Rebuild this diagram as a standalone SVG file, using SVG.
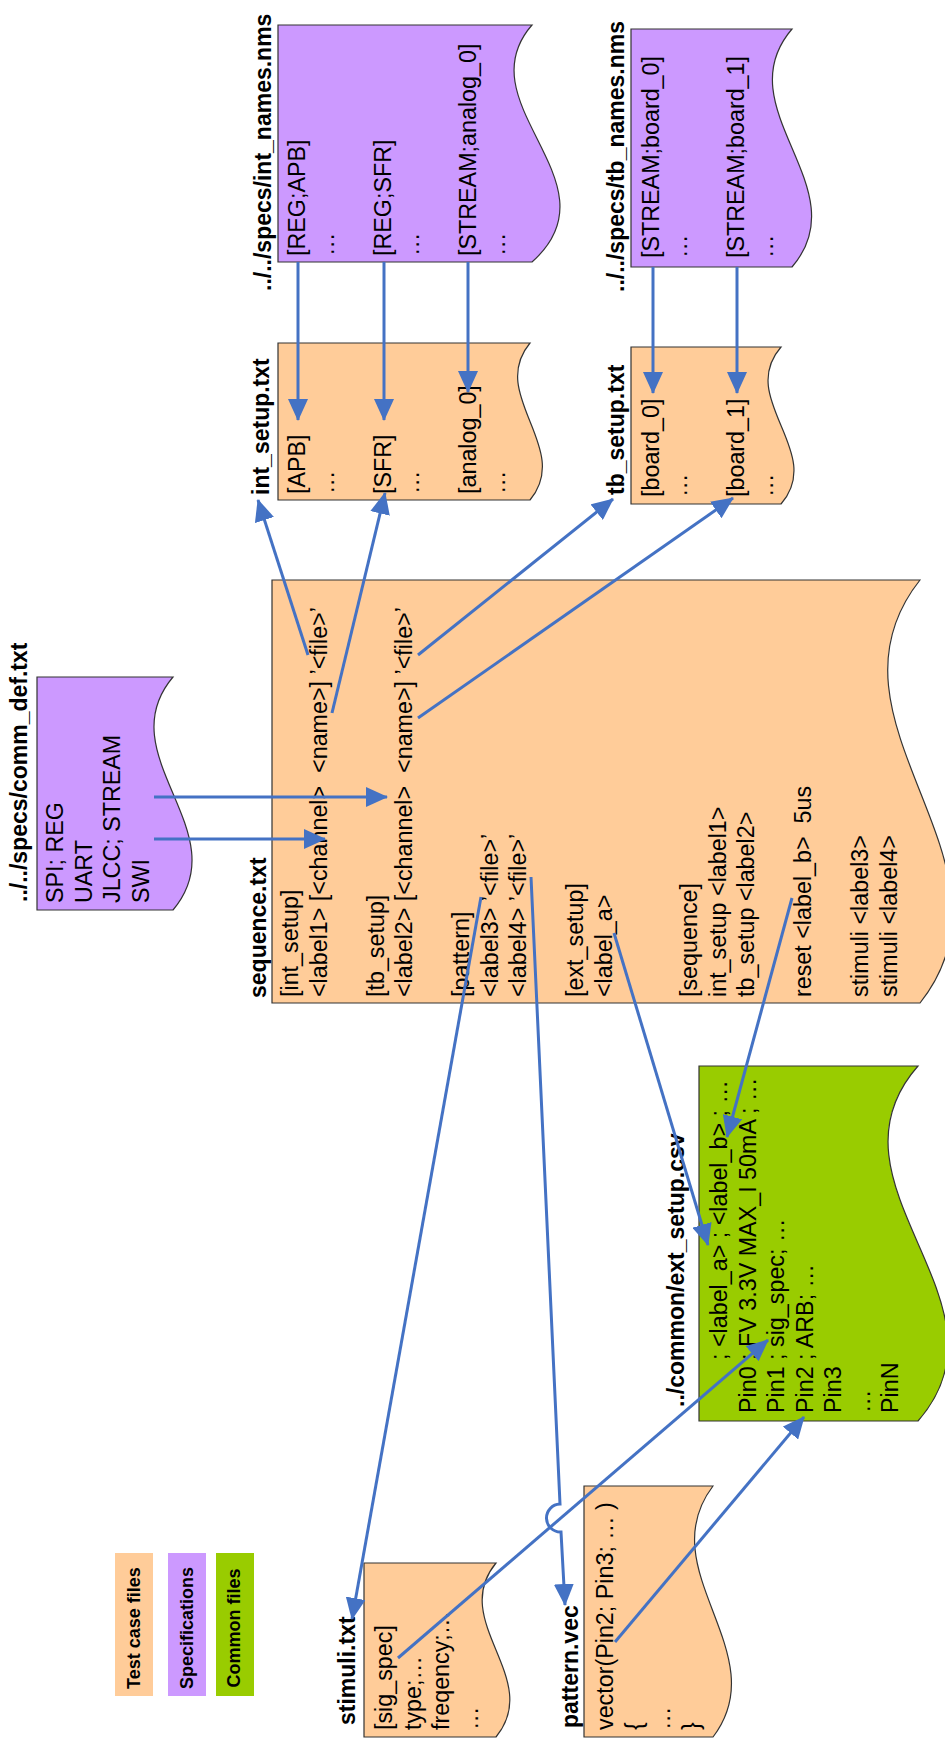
<svg xmlns="http://www.w3.org/2000/svg" width="945" height="1739" viewBox="0 0 945 1739">
<style>
.t{font-family:"Liberation Sans",Arial,sans-serif;font-size:23.3px;fill:#000}
.h{font-family:"Liberation Sans",Arial,sans-serif;font-size:23px;font-weight:bold;fill:#000}
.lg{font-family:"Liberation Sans",Arial,sans-serif;font-size:18px;font-weight:bold;fill:#000;text-anchor:middle}
.tc{fill:#FFCC99;stroke:#333;stroke-width:1.2}
.sp{fill:#CC99FF;stroke:#333;stroke-width:1.2}
.cm{fill:#99CC00;stroke:#333;stroke-width:1.2}
.c{fill:none;stroke:#4472C4;stroke-width:3;marker-end:url(#ah)}
.n{fill:none;stroke:#4472C4;stroke-width:3}
</style>
<defs>
<marker id="ah" markerUnits="userSpaceOnUse" markerWidth="22" markerHeight="20" refX="21" refY="10" orient="auto">
<path d="M0,0 L22,10 L0,20 z" fill="#4472C4"/>
</marker>
</defs>
<rect width="945" height="1739" fill="#fff"/>

<g id="int_names">
<path class="sp" d="M278,25 H532 C463,104 621,183 532,262 H278 Z"/>
<text class="h" transform="translate(271,291) rotate(-90)">../../specs/int_names.nms</text>
<text class="t" transform="translate(305,256) rotate(-90)"><tspan x="0" y="0">[REG;APB]</tspan><tspan x="0" y="28.5">…</tspan><tspan x="0" y="85.5">[REG;SFR]</tspan><tspan x="0" y="114">…</tspan><tspan x="0" y="171">[STREAM;analog_0]</tspan><tspan x="0" y="199.5">…</tspan></text>
</g>

<g id="int_setup">
<path class="tc" d="M278,343 H530 C487,395 573,448 530,500 H278 Z"/>
<text class="h" transform="translate(269,495) rotate(-90)">int_setup.txt</text>
<text class="t" transform="translate(305,494) rotate(-90)"><tspan x="0" y="0">[APB]</tspan><tspan x="0" y="28.5">…</tspan><tspan x="0" y="85.5">[SFR]</tspan><tspan x="0" y="114">…</tspan><tspan x="0" y="171">[analog_0]</tspan><tspan x="0" y="199.5">…</tspan></text>
</g>

<g id="tb_names">
<path class="sp" d="M631,29 H792 C724,108 860,188 792,267 H631 Z"/>
<text class="h" transform="translate(624,292) rotate(-90)">../../specs/tb_names.nms</text>
<text class="t" transform="translate(658.5,258) rotate(-90)"><tspan x="0" y="0">[STREAM;board_0]</tspan><tspan x="0" y="28.5">…</tspan><tspan x="0" y="85.5">[STREAM;board_1]</tspan><tspan x="0" y="114">…</tspan></text>
</g>

<g id="tb_setup">
<path class="tc" d="M631,347 H781 C736,399 826,452 781,504 H631 Z"/>
<text class="h" transform="translate(624,495) rotate(-90)">tb_setup.txt</text>
<text class="t" transform="translate(658.5,497) rotate(-90)"><tspan x="0" y="0">[board_0]</tspan><tspan x="0" y="28.5">…</tspan><tspan x="0" y="85.5">[board_1]</tspan><tspan x="0" y="114">…</tspan></text>
</g>

<g id="comm_def">
<path class="sp" d="M37,677 H173 C107,755 239,832 173,910 H37 Z"/>
<text class="h" transform="translate(27,902) rotate(-90)">../../specs/comm_def.txt</text>
<text class="t" transform="translate(63,903) rotate(-90)"><tspan x="0" y="0">SPI; REG</tspan><tspan x="0" y="28.5">UART</tspan><tspan x="0" y="57">JLCC; STREAM</tspan><tspan x="0" y="85.5">SWI</tspan></text>
</g>

<g id="sequence">
<path class="tc" d="M272,580 H920 C808,721 1032,862 920,1003 H272 Z"/>
<text class="h" transform="translate(266,998) rotate(-90)">sequence.txt</text>
<text class="t" transform="translate(298,997) rotate(-90)"><tspan x="0" y="0">[int_setup]</tspan><tspan x="0" y="28.5">&lt;label1&gt; [&lt;channel&gt; &#160;&lt;name&gt;] ’&lt;file&gt;’</tspan><tspan x="0" y="85.5">[tb_setup]</tspan><tspan x="0" y="114">&lt;label2&gt; [&lt;channel&gt; &#160;&lt;name&gt;] ’&lt;file&gt;’</tspan><tspan x="0" y="171">[pattern]</tspan><tspan x="0" y="199.5">&lt;label3&gt; ’&lt;file&gt;’</tspan><tspan x="0" y="228">&lt;label4&gt; ’&lt;file&gt;’</tspan><tspan x="0" y="285">[ext_setup]</tspan><tspan x="0" y="313.5">&lt;label_a&gt;</tspan><tspan x="0" y="399">[sequence]</tspan><tspan x="0" y="427.5">int_setup &lt;label1&gt;</tspan><tspan x="0" y="456">tb_setup &lt;label2&gt;</tspan><tspan x="0" y="513">reset &lt;label_b&gt; &#160;5us</tspan><tspan x="0" y="570">stimuli &lt;label3&gt;</tspan><tspan x="0" y="598.5">stimuli &lt;label4&gt;</tspan></text>
</g>

<g id="ext_setup">
<path class="cm" d="M699,1066 H918 C814,1184 1022,1303 918,1421 H699 Z"/>
<text class="h" transform="translate(684,1407) rotate(-90)">../common/ext_setup.csv</text>
<text class="t" transform="translate(727,1413) rotate(-90)"><tspan x="53" y="0">; &lt;label_a&gt; ; &lt;label_b&gt; ; …</tspan><tspan x="0" y="28.5">Pin0 ; FV 3.3V MAX_I 50mA ; …</tspan><tspan x="0" y="57">Pin1 ; sig_spec; …</tspan><tspan x="0" y="85.5">Pin2 ; ARB; …</tspan><tspan x="0" y="114">Pin3</tspan><tspan x="0" y="142.5">…</tspan><tspan x="0" y="171">PinN</tspan></text>
</g>

<g id="stimuli">
<path class="tc" d="M364,1563 H496 C448,1621 544,1679 496,1737 H364 Z"/>
<text class="h" transform="translate(355,1725) rotate(-90)">stimuli.txt</text>
<text class="t" transform="translate(392,1730) rotate(-90)"><tspan x="0" y="0">[sig_spec]</tspan><tspan x="0" y="28.5">type;…</tspan><tspan x="0" y="57">freqency;…</tspan><tspan x="0" y="85.5">…</tspan></text>
</g>

<g id="pattern">
<path class="tc" d="M584,1486 H713 C649,1570 777,1653 713,1737 H584 Z"/>
<text class="h" transform="translate(578,1728) rotate(-90)">pattern.vec</text>
<text class="t" transform="translate(613,1730) rotate(-90)"><tspan x="0" y="0">vector(Pin2; Pin3; … )</tspan><tspan x="0" y="28.5">{</tspan><tspan x="0" y="57">…</tspan><tspan x="0" y="85.5">}</tspan></text>
</g>

<g id="legend">
<rect x="115" y="1553" width="38" height="143" fill="#FFCC99"/>
<rect x="168" y="1553" width="38" height="143" fill="#CC99FF"/>
<rect x="216" y="1553" width="38" height="143" fill="#99CC00"/>
<text class="lg" transform="translate(140,1628) rotate(-90)">Test case files</text>
<text class="lg" transform="translate(193,1628) rotate(-90)">Specifications</text>
<text class="lg" transform="translate(240,1628) rotate(-90)">Common files</text>
</g>

<g id="connectors">
<path class="c" d="M298,262 L298,420"/>
<path class="c" d="M384,262 L384,420"/>
<path class="c" d="M468,262 L468,392"/>
<path class="c" d="M653,267 L653,393"/>
<path class="c" d="M737,267 L737,393"/>
<path class="c" d="M308,655 L258,500"/>
<path class="c" d="M332,713 L385,493"/>
<path class="c" d="M418,655 L613,499"/>
<path class="c" d="M418,718 L733,498"/>
<path class="c" d="M154,797 L387,797"/>
<path class="c" d="M154,839 L325,839"/>
<path class="c" d="M481,897 L352,1619"/>
<path class="c" d="M531,877 L560,1504 A14,14 0 0 0 561,1532 L565,1605"/>
<path class="c" d="M614,933 L708,1245"/>
<path class="c" d="M792,898 L727,1137"/>
<path class="c" d="M398,1658 L768,1340"/>
<path class="c" d="M615,1642 L804,1417"/>
</g>
</svg>
